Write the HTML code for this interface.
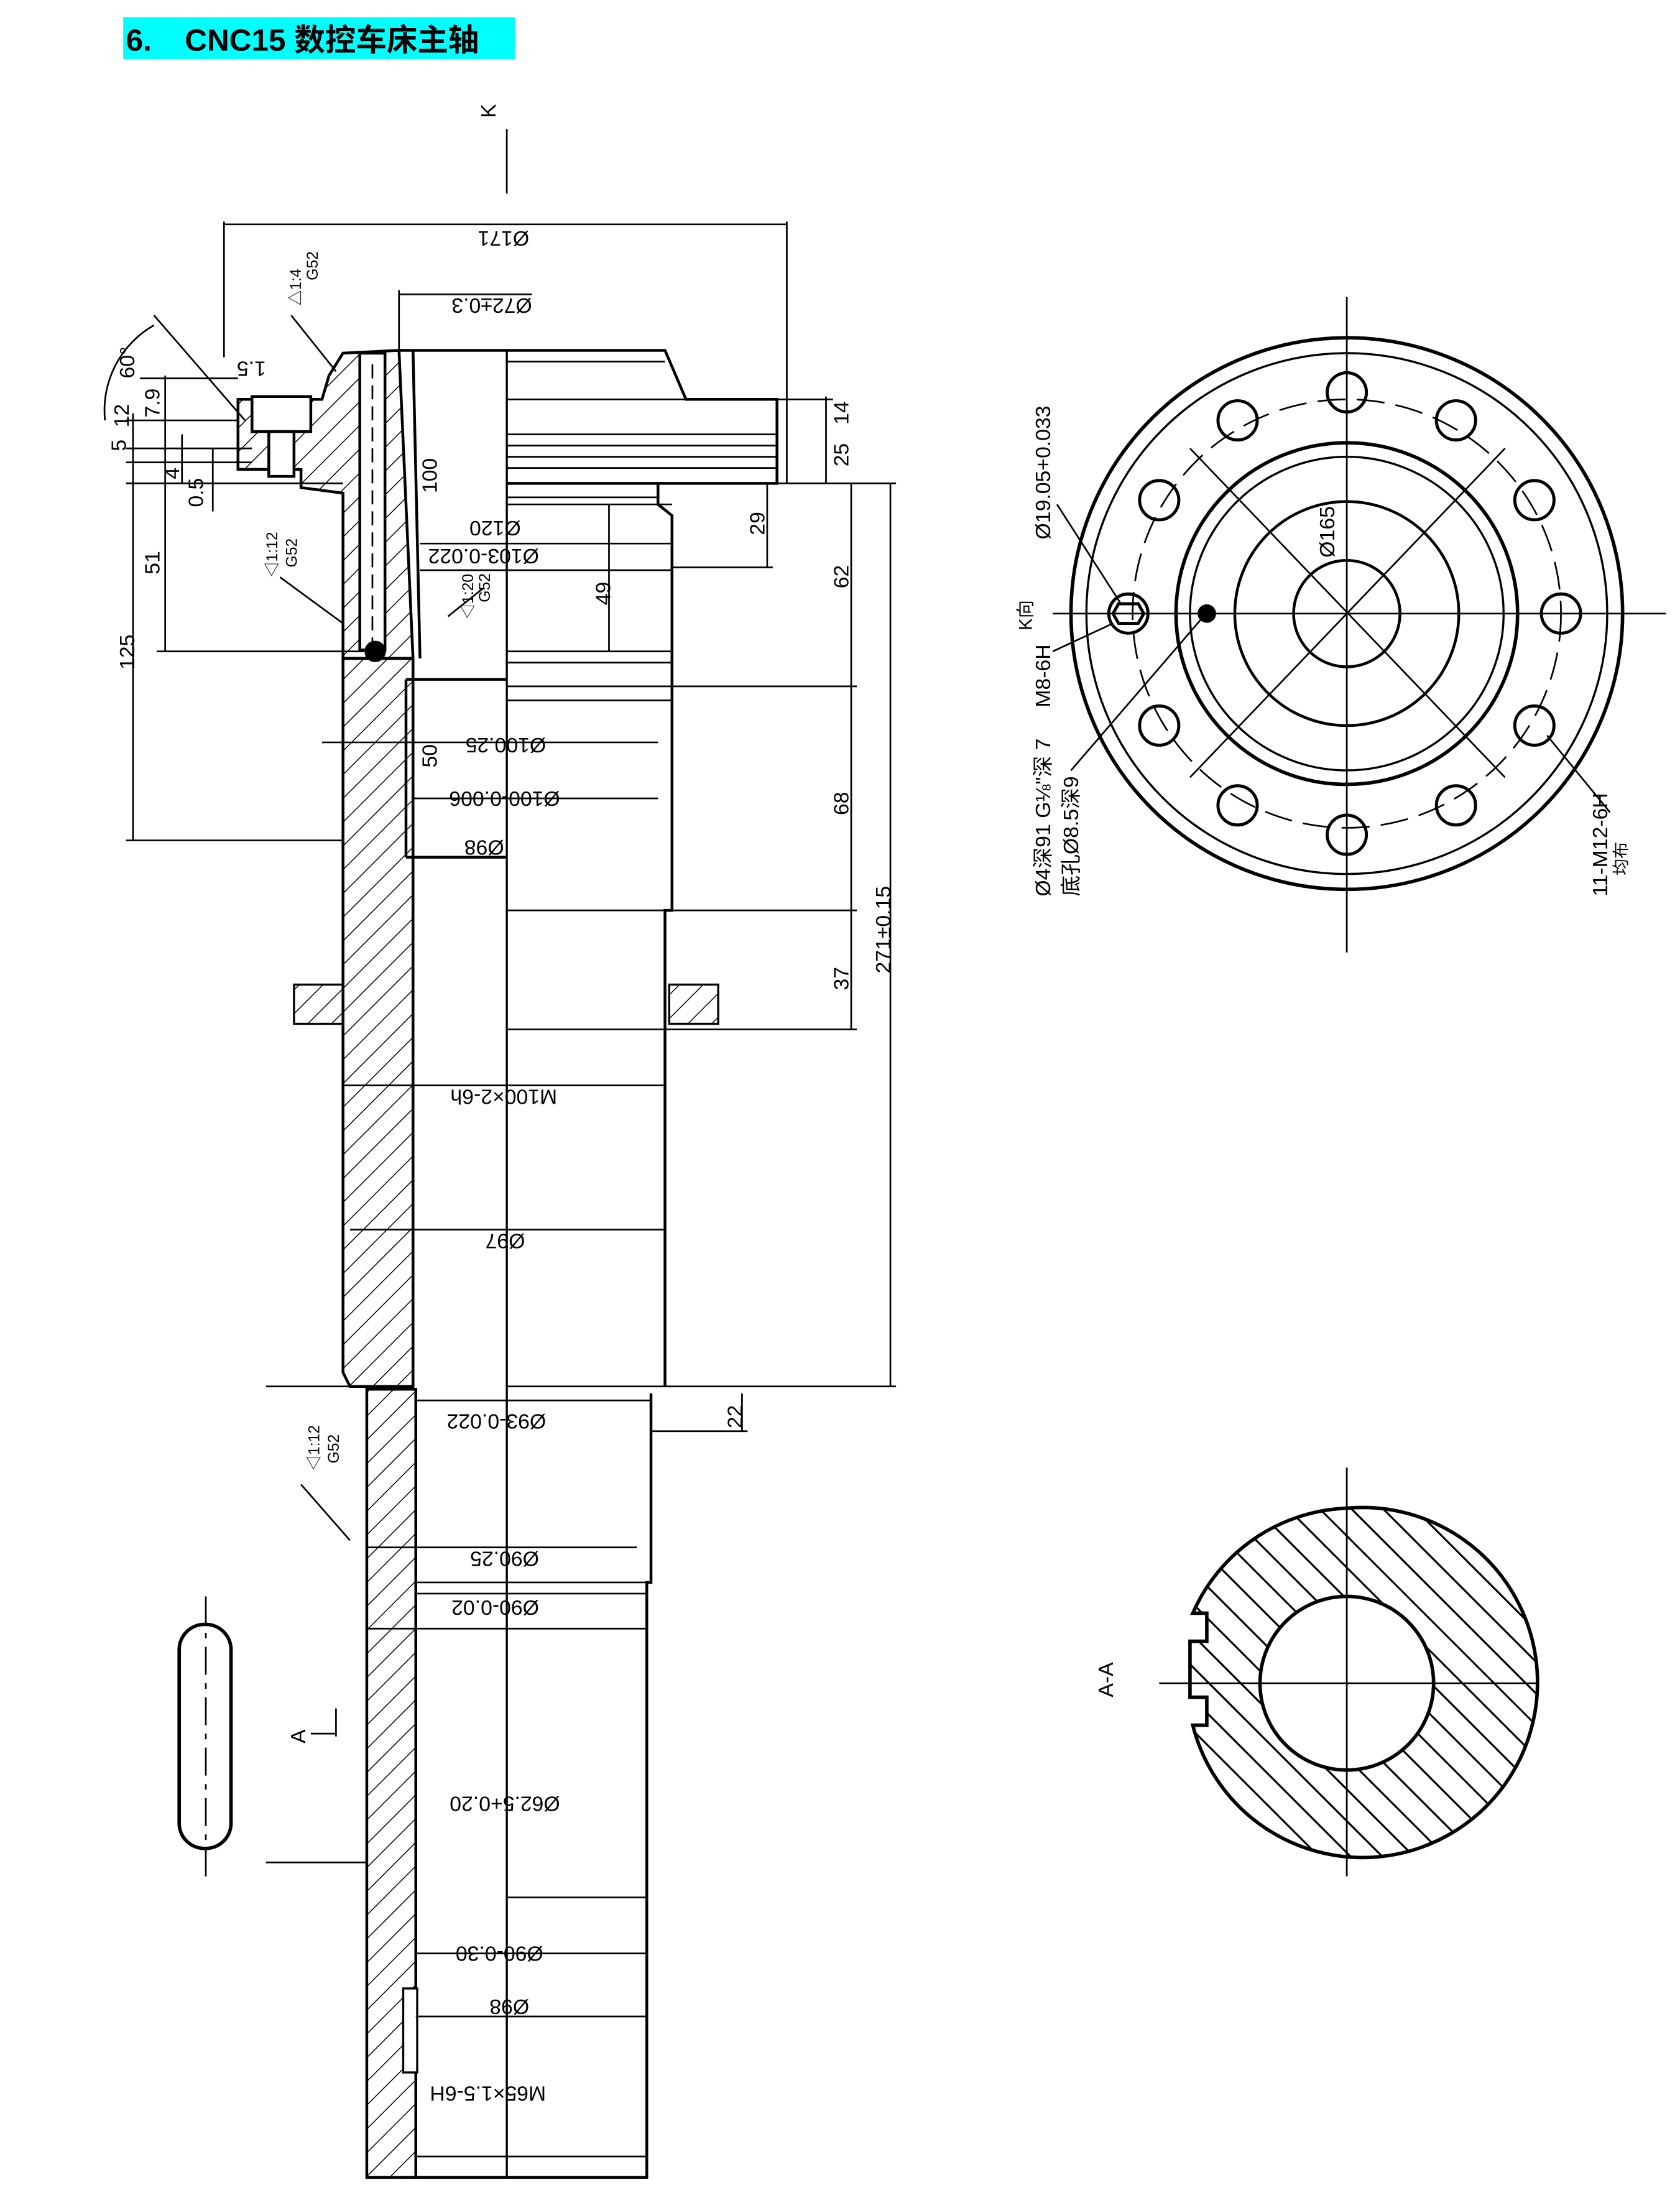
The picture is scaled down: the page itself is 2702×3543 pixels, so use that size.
<!DOCTYPE html>
<html><head><meta charset="utf-8"><style>
html,body{margin:0;padding:0;background:#fff}
svg{display:block}
text{font-family:"Liberation Sans","Noto Sans CJK SC",sans-serif;fill:#000}
</style></head><body>
<svg width="2702" height="3543" viewBox="0 0 1200 1573" xmlns="http://www.w3.org/2000/svg">
<defs>
<pattern id="h" width="12" height="12" patternUnits="userSpaceOnUse" patternTransform="rotate(45)">
<line x1="0" y1="0" x2="0" y2="12" stroke="#000" stroke-width="1.3"/></pattern>
<pattern id="h2" width="16" height="16" patternUnits="userSpaceOnUse" patternTransform="rotate(-45)">
<line x1="0" y1="0" x2="0" y2="16" stroke="#000" stroke-width="2.8"/></pattern>
</defs>
<rect x="88" y="12" width="280" height="30" fill="#00ffff"/>
<text x="90" y="36" font-size="22" font-weight="bold">6.<tspan x="132">CNC15 数控车床主轴</tspan></text>

<g stroke="#000" fill="none" stroke-width="1.2">
<line x1="362" y1="92" x2="362" y2="138"/>
<line x1="160" y1="158" x2="160" y2="255"/><line x1="160" y1="160" x2="562" y2="160"/><line x1="562" y1="158" x2="562" y2="345"/>
<line x1="285" y1="207" x2="285" y2="255"/><line x1="285" y1="210" x2="380" y2="210"/>
<path d="M235,268 L245,252 L285,250 L295,470 L245,470 L245,352 L215,348 L215,335 L170,335 L170,285 L230,285 Z" fill="url(#h)" stroke-width="2"/>
<rect x="180" y="283" width="42" height="25" fill="#fff" stroke-width="2"/>
<rect x="192" y="308" width="18" height="32" fill="#fff" stroke-width="2"/>
<rect x="257" y="252" width="18" height="212" fill="#fff" stroke-width="2"/>
<line x1="266" y1="260" x2="266" y2="460" stroke-dasharray="10,5"/>
<circle cx="268" cy="465" r="7" fill="#000"/>
<path d="M245,470 L295,470 L295,990 L250,990 L245,980 Z" fill="url(#h)" stroke-width="2"/>
<path d="M262,992 L297,992 L297,1555 L262,1555 Z" fill="url(#h)" stroke-width="2"/>
<rect x="288" y="1420" width="10" height="60" fill="#fff" stroke-width="1.5"/>
<line x1="290" y1="485" x2="290" y2="612" stroke-width="2"/><line x1="290" y1="485" x2="362" y2="485" stroke-width="2"/><line x1="290" y1="612" x2="362" y2="612" stroke-width="2"/>
<line x1="295" y1="250" x2="300" y2="470" stroke-width="2"/>
<path d="M285,250 L475,250 L490,285 L555,285 L555,345 L362,345" stroke-width="2"/>
<line x1="362" y1="258" x2="475" y2="258"/>
<line x1="362" y1="285" x2="555" y2="285"/>
<line x1="362" y1="310" x2="555" y2="310"/><line x1="362" y1="318" x2="555" y2="318"/><line x1="362" y1="326" x2="555" y2="326"/><line x1="362" y1="334" x2="555" y2="334"/>
<line x1="362" y1="250" x2="362" y2="1555" stroke-width="1.5"/>
<path d="M470,345 L470,360 L480,368 L480,490 L480,650 L475,650 L475,990" stroke-width="2"/>
<line x1="362" y1="355" x2="470" y2="355"/><line x1="362" y1="360" x2="480" y2="360"/>
<line x1="362" y1="465" x2="480" y2="465"/><line x1="362" y1="473" x2="480" y2="473"/>
<line x1="362" y1="490" x2="480" y2="490"/><line x1="362" y1="500" x2="480" y2="500"/>
<line x1="362" y1="650" x2="480" y2="650"/><line x1="362" y1="735" x2="480" y2="735"/>
<line x1="362" y1="990" x2="475" y2="990"/>
<path d="M465,995 L465,1130 L462,1130 L462,1555 L297,1555" stroke-width="2"/>
<line x1="297" y1="1000" x2="465" y2="1000"/>
<line x1="297" y1="1130" x2="462" y2="1130"/><line x1="297" y1="1138" x2="462" y2="1138"/>
<line x1="362" y1="1355" x2="462" y2="1355"/>
<line x1="297" y1="1440" x2="462" y2="1440"/>
<line x1="297" y1="1540" x2="462" y2="1540"/>
<rect x="210" y="703" width="35" height="28" fill="url(#h)" stroke-width="1.5"/>
<rect x="478" y="703" width="35" height="28" fill="url(#h)" stroke-width="1.5"/>
<line x1="95" y1="345" x2="95" y2="600"/><line x1="90" y1="345" x2="245" y2="345"/><line x1="90" y1="600" x2="245" y2="600"/>
<line x1="118" y1="345" x2="118" y2="465"/><line x1="112" y1="465" x2="260" y2="465"/>
<line x1="100" y1="270" x2="170" y2="270"/><line x1="90" y1="300" x2="170" y2="300"/><line x1="90" y1="320" x2="180" y2="320"/><line x1="90" y1="330" x2="180" y2="330"/>
<line x1="95" y1="295" x2="95" y2="345"/><line x1="118" y1="268" x2="118" y2="345"/><line x1="130" y1="310" x2="130" y2="345"/><line x1="152" y1="320" x2="152" y2="365"/>
<line x1="110" y1="225" x2="175" y2="300"/><path d="M75,300 A70,70 0 0 1 110,232"/>
<line x1="208" y1="225" x2="240" y2="265"/>
<line x1="200" y1="412" x2="245" y2="445"/>
<line x1="215" y1="1060" x2="250" y2="1100"/>
<line x1="190" y1="990" x2="262" y2="990"/><line x1="190" y1="1330" x2="262" y2="1330"/>
<line x1="240" y1="1220" x2="240" y2="1240"/><line x1="222" y1="1238" x2="240" y2="1238"/>
<line x1="608" y1="345" x2="608" y2="735"/><line x1="636" y1="345" x2="636" y2="990"/>
<line x1="480" y1="345" x2="640" y2="345"/><line x1="480" y1="490" x2="612" y2="490"/><line x1="480" y1="650" x2="612" y2="650"/><line x1="480" y1="735" x2="612" y2="735"/><line x1="475" y1="990" x2="640" y2="990"/>
<line x1="548" y1="345" x2="548" y2="405"/><line x1="480" y1="405" x2="552" y2="405"/>
<line x1="590" y1="283" x2="590" y2="345"/><line x1="555" y1="285" x2="595" y2="285"/>
<line x1="530" y1="995" x2="530" y2="1022"/><line x1="465" y1="1022" x2="534" y2="1022"/>
<line x1="435" y1="360" x2="435" y2="465"/>
<line x1="300" y1="388" x2="480" y2="388"/><line x1="300" y1="407" x2="480" y2="407"/>
<line x1="230" y1="530" x2="470" y2="530"/><line x1="295" y1="570" x2="470" y2="570"/>
<line x1="245" y1="775" x2="475" y2="775"/><line x1="250" y1="878" x2="475" y2="878"/>
<line x1="262" y1="1105" x2="455" y2="1105"/><line x1="262" y1="1163" x2="462" y2="1163"/>
<line x1="297" y1="1395" x2="462" y2="1395"/>
<line x1="320" y1="440" x2="345" y2="420"/>
<rect x="128" y="1160" width="37" height="160" rx="18" stroke-width="2.5"/>
<line x1="147" y1="1140" x2="147" y2="1340" stroke-dasharray="20,6,4,6"/>
<circle cx="962" cy="438" r="197" stroke-width="2.5"/>
<circle cx="962" cy="438" r="186" stroke-width="1.5"/>
<circle cx="962" cy="438" r="153" stroke-dasharray="20,8"/>
<circle cx="962" cy="438" r="122" stroke-width="2.5"/>
<circle cx="962" cy="438" r="112" stroke-width="1.5"/>
<circle cx="962" cy="438" r="80" stroke-width="2"/>
<circle cx="962" cy="438" r="38" stroke-width="2"/>
<line x1="752" y1="438" x2="1190" y2="438"/><line x1="962" y1="212" x2="962" y2="680"/>
<line x1="850" y1="320" x2="1075" y2="555"/><line x1="850" y1="555" x2="1075" y2="320"/>
<g stroke-width="2.2">
<circle cx="962" cy="280" r="14"/><circle cx="1040" cy="300" r="14"/><circle cx="1096" cy="357" r="14"/><circle cx="1115" cy="438" r="14"/><circle cx="1096" cy="518" r="14"/><circle cx="1040" cy="575" r="14"/><circle cx="962" cy="596" r="14"/><circle cx="884" cy="575" r="14"/><circle cx="828" cy="518" r="14"/><circle cx="828" cy="357" r="14"/><circle cx="884" cy="300" r="14"/>
<circle cx="806" cy="438" r="14"/><path d="M799,431 h14 l4,7 l-4,7 h-14 l-4,-7 z"/>
</g>
<circle cx="862" cy="438" r="6" fill="#000"/>
<line x1="755" y1="360" x2="800" y2="430"/><line x1="752" y1="465" x2="795" y2="445"/><line x1="765" y1="550" x2="858" y2="442"/><line x1="1150" y1="580" x2="1105" y2="525"/>
<path d="M962,1077 A125,125 0 1 1 852,1232 L862,1232 L862,1212 L850,1212 L850,1172 L862,1172 L862,1152 L852,1152 A125,125 0 0 1 962,1077 Z" fill="url(#h2)" stroke-width="2.5"/>
<circle cx="962" cy="1202" r="62" fill="#fff" stroke-width="2.5"/>
<line x1="828" y1="1202" x2="1098" y2="1202"/><line x1="962" y1="1048" x2="962" y2="1340"/>
</g>

<g font-size="15">
<text transform="translate(354,84) rotate(-90)">K</text>
<text transform="translate(378,165) rotate(180)">Ø171</text>
<text transform="translate(380,213) rotate(180)">Ø72±0.3</text>
<text transform="translate(372,372) rotate(180)">Ø120</text>
<text transform="translate(385,392) rotate(180)">Ø103-0.022</text>
<text transform="translate(312,352) rotate(-90)">100</text>
<text transform="translate(436,432) rotate(-90)">49</text>
<text transform="translate(546,382) rotate(-90)">29</text>
<text transform="translate(606,420) rotate(-90)">62</text>
<text transform="translate(606,303) rotate(-90)">14</text>
<text transform="translate(606,333) rotate(-90)">25</text>
<text transform="translate(390,527) rotate(180)">Ø100.25</text>
<text transform="translate(400,565) rotate(180)">Ø100-0.006</text>
<text transform="translate(312,548) rotate(-90)">50</text>
<text transform="translate(360,600) rotate(180)">Ø98</text>
<text transform="translate(606,582) rotate(-90)">68</text>
<text transform="translate(606,707) rotate(-90)">37</text>
<text transform="translate(636,695) rotate(-90)">271±0.15</text>
<text transform="translate(398,778) rotate(180)">M100×2-6h</text>
<text transform="translate(375,881) rotate(180)">Ø97</text>
<text transform="translate(530,1020) rotate(-90)">22</text>
<text transform="translate(390,1010) rotate(180)">Ø93-0.022</text>
<text transform="translate(385,1108) rotate(180)">Ø90.25</text>
<text transform="translate(385,1143) rotate(180)">Ø90-0.02</text>
<text transform="translate(400,1283) rotate(180)">Ø62.5+0.20</text>
<text transform="translate(388,1390) rotate(180)">Ø90-0.30</text>
<text transform="translate(378,1428) rotate(180)">Ø98</text>
<text transform="translate(390,1490) rotate(180)">M65×1.5-6H</text>
<text transform="translate(96,478) rotate(-90)">125</text>
<text transform="translate(114,410) rotate(-90)">51</text>
<text transform="translate(96,270) rotate(-90)">60°</text>
<text transform="translate(90,322) rotate(-90)">5</text>
<text transform="translate(92,305) rotate(-90)">12</text>
<text transform="translate(114,298) rotate(-90)">7.9</text>
<text transform="translate(145,362) rotate(-90)">0.5</text>
<text transform="translate(128,342) rotate(-90)">4</text>
<text transform="translate(190,258) rotate(180)">1.5</text>
<text transform="translate(215,218) rotate(-90)" font-size="11">△1:4</text>
<text transform="translate(227,200) rotate(-90)" font-size="11">G52</text>
<text transform="translate(198,412) rotate(-90)" font-size="11">◁1:12</text>
<text transform="translate(212,405) rotate(-90)" font-size="11">G52</text>
<text transform="translate(338,442) rotate(-90)" font-size="11">◁1:20</text>
<text transform="translate(350,430) rotate(-90)" font-size="11">G52</text>
<text transform="translate(228,1050) rotate(-90)" font-size="11">◁1:12</text>
<text transform="translate(242,1045) rotate(-90)" font-size="11">G52</text>
<text transform="translate(218,1245) rotate(-90)">A</text>
<text transform="translate(750,385) rotate(-90)">Ø19.05+0.033</text>
<text transform="translate(953,398) rotate(-90)">Ø165</text>
<text transform="translate(737,450) rotate(-90)" font-size="13">K向</text>
<text transform="translate(750,505) rotate(-90)">M8-6H</text>
<text transform="translate(750,640) rotate(-90)">Ø4深91 G⅛"深 7</text>
<text transform="translate(770,640) rotate(-90)">底孔Ø8.5深9</text>
<text transform="translate(1148,640) rotate(-90)">11-M12-6H</text>
<text transform="translate(1162,625) rotate(-90)" font-size="12">均布</text>
<text transform="translate(795,1212) rotate(-90)">A-A</text>
</g>
</svg>
</body></html>
